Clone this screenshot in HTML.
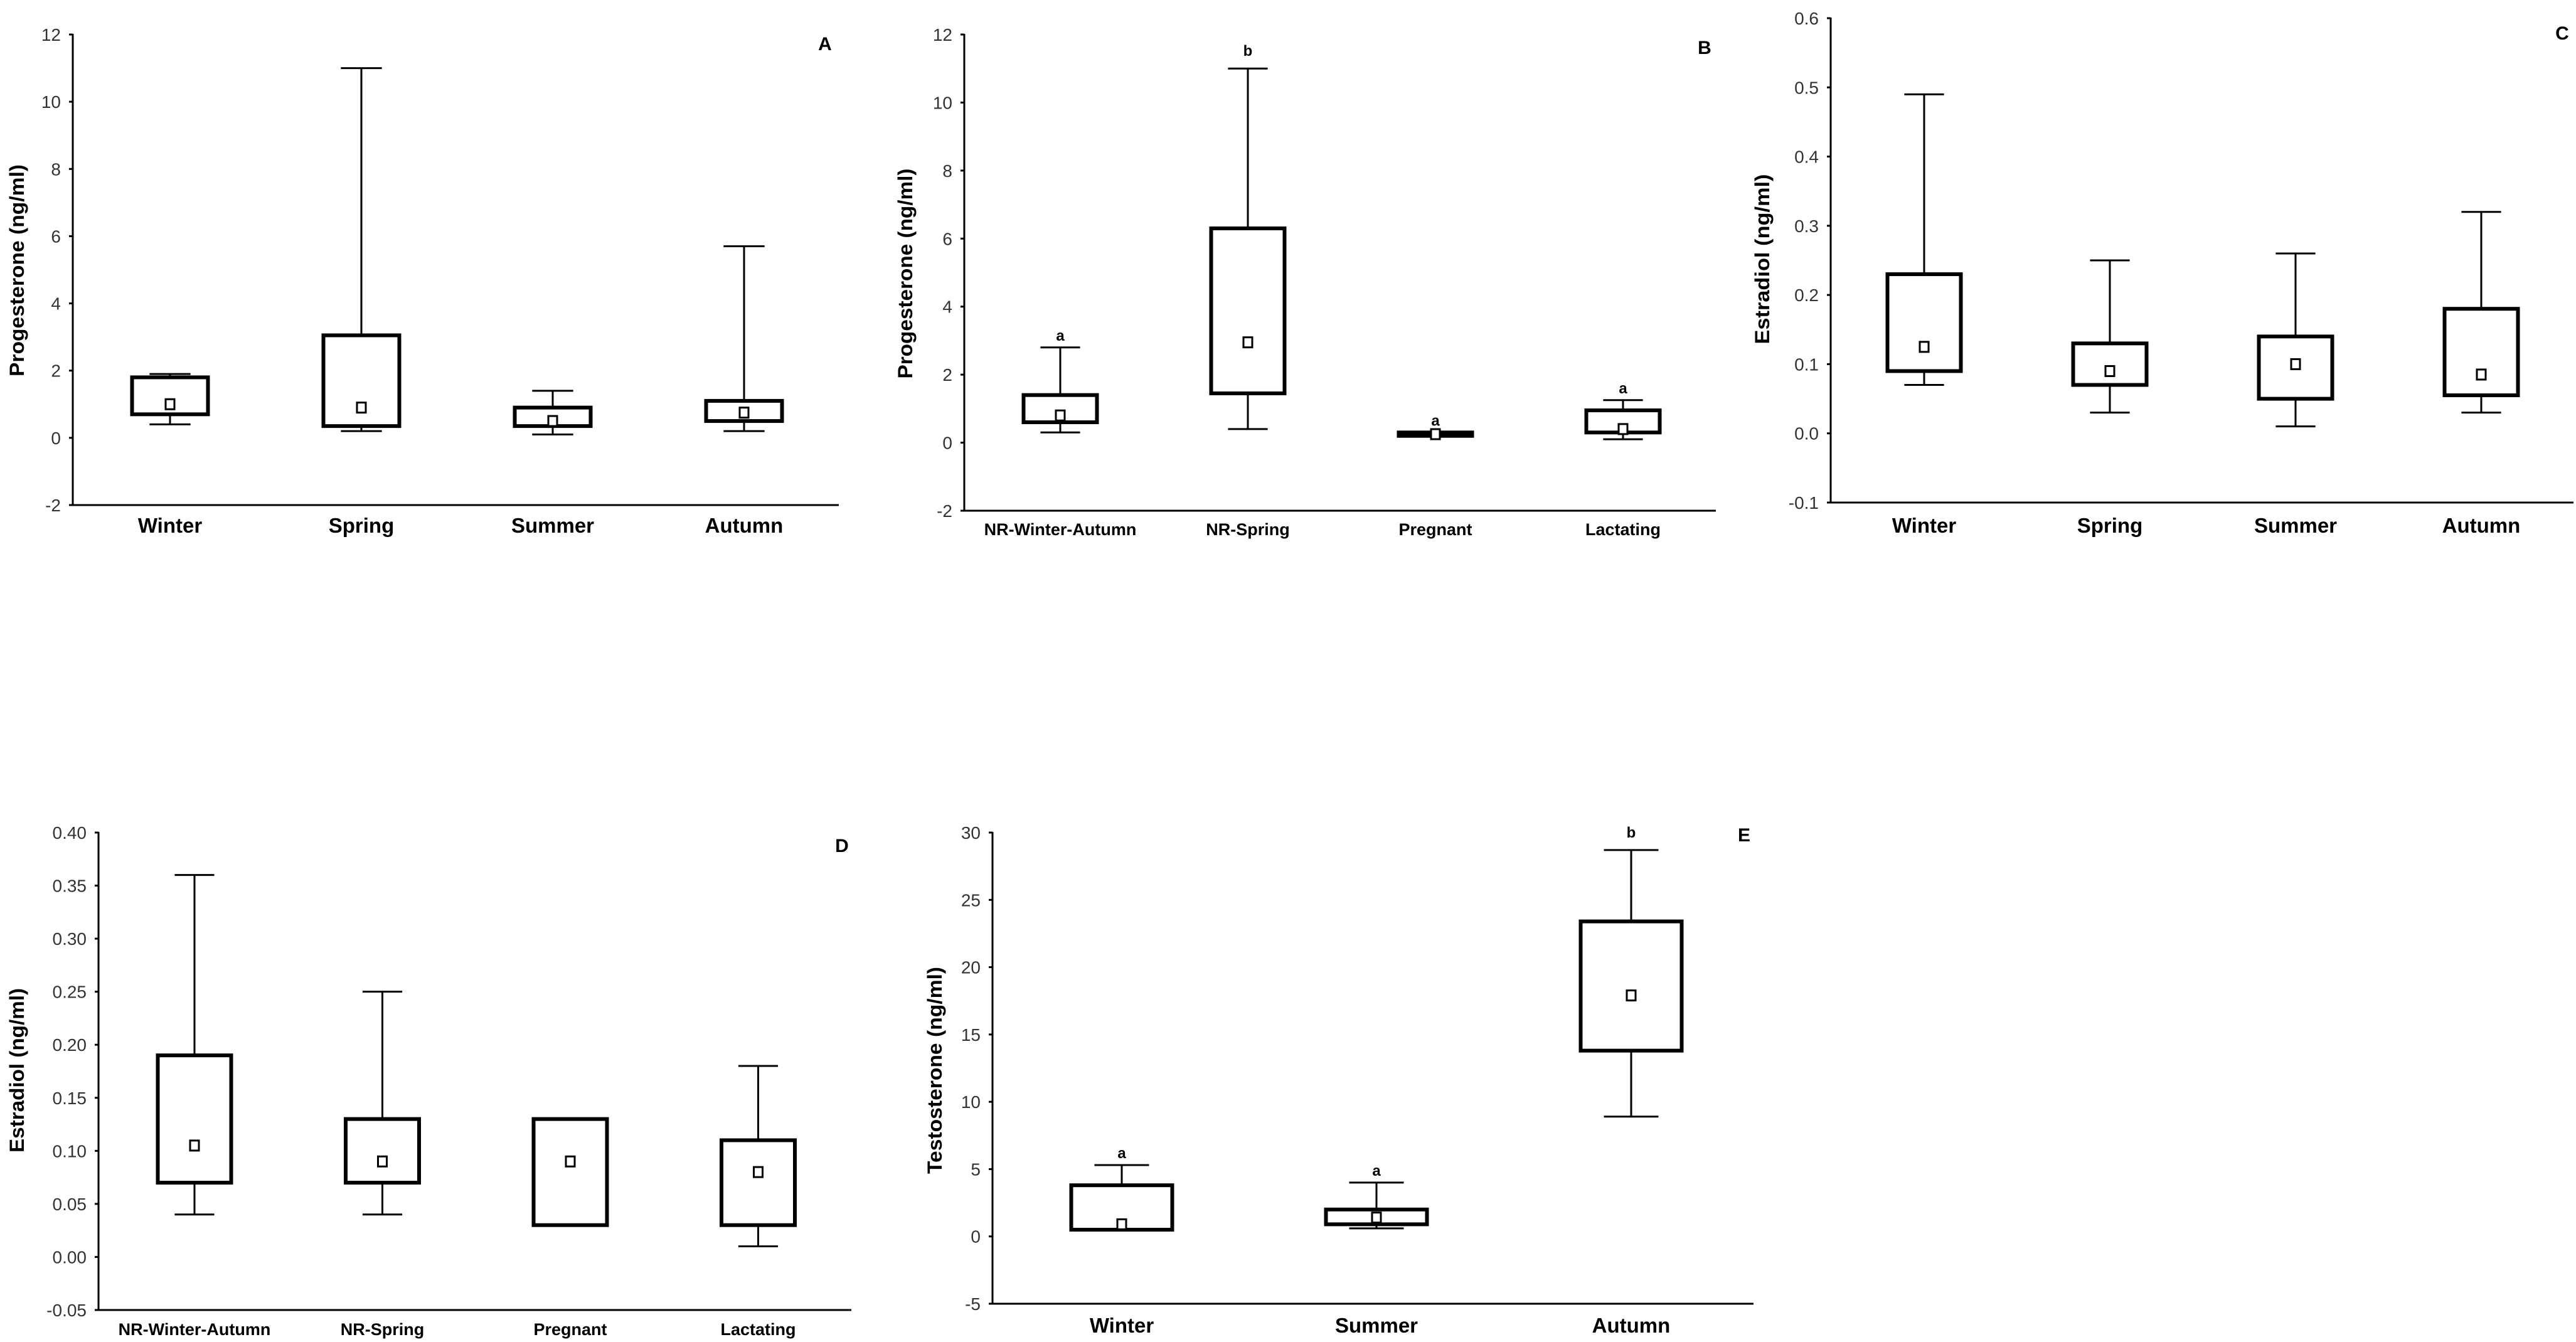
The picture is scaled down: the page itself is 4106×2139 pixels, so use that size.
<!DOCTYPE html>
<html><head><meta charset="utf-8"><style>
html,body{margin:0;padding:0;background:#fff;}
svg{display:block;}
text{font-family:"Liberation Sans",Arial,sans-serif;}
</style></head>
<body>
<svg id="fig" xmlns="http://www.w3.org/2000/svg" width="4106" height="2139" viewBox="0 0 4106 2139"></svg>
<script>
// Panel A: progesterone by season
const catsA = ["Winter","Spring","Summer","Autumn"];
const lowA  = [0.4, 0.2, 0.1, 0.2];
const q1A   = [0.7, 0.35, 0.35, 0.5];
const q3A   = [1.8, 3.05, 0.9, 1.1];
const highA = [1.9, 11, 1.4, 5.7];
const meanA = [1.0, 0.9, 0.5, 0.75];
const sigA  = ["", "", "", ""];
const ticksA = [-2,0,2,4,6,8,10,12];

// Panel B: progesterone by reproductive status
const catsB = ["NR-Winter-Autumn","NR-Spring","Pregnant","Lactating"];
const lowB  = [0.3, 0.4, null, 0.1];
const q1B   = [0.6, 1.45, 0.2, 0.3];
const q3B   = [1.4, 6.3, 0.3, 0.95];
const highB = [2.8, 11, null, 1.25];
const meanB = [0.8, 2.95, 0.25, 0.4];
const sigB  = ["a","b","a","a"];
const ticksB = [-2,0,2,4,6,8,10,12];

// Panel C: estradiol by season
const catsC = ["Winter","Spring","Summer","Autumn"];
const lowC  = [0.07, 0.03, 0.01, 0.03];
const q1C   = [0.09, 0.07, 0.05, 0.055];
const q3C   = [0.23, 0.13, 0.14, 0.18];
const highC = [0.49, 0.25, 0.26, 0.32];
const meanC = [0.125, 0.09, 0.1, 0.085];
const sigC  = ["", "", "", ""];
const ticksC = ["-0.1","0.0","0.1","0.2","0.3","0.4","0.5","0.6"];

// Panel D: estradiol by reproductive status
const catsD = ["NR-Winter-Autumn","NR-Spring","Pregnant","Lactating"];
const lowD  = [0.04, 0.04, null, 0.01];
const q1D   = [0.07, 0.07, 0.03, 0.03];
const q3D   = [0.19, 0.13, 0.13, 0.11];
const highD = [0.36, 0.25, null, 0.18];
const meanD = [0.105, 0.09, 0.09, 0.08];
const sigD  = ["", "", "", ""];
const ticksD = ["-0.05","0.00","0.05","0.10","0.15","0.20","0.25","0.30","0.35","0.40"];

// Panel E: testosterone by season
const catsE = ["Winter","Summer","Autumn"];
const lowE  = [null, 0.6, 8.9];
const q1E   = [0.5, 0.9, 13.8];
const q3E   = [3.8, 2.0, 23.4];
const highE = [5.3, 4.0, 28.7];
const meanE = [0.9, 1.4, 17.9];
const sigE  = ["a","a","b"];
const ticksE = [-5,0,5,10,15,20,25,30];

const NS = "http://www.w3.org/2000/svg";
const svg = document.getElementById("fig");
function mk(tag, attrs, parent){
  const e = document.createElementNS(NS, tag);
  for (const k in attrs) e.setAttribute(k, attrs[k]);
  (parent||svg).appendChild(e);
  return e;
}

const panels = [
  {id:"a", letter:"A", title:"Progesterone (ng/ml)", cats:catsA, low:lowA, q1:q1A, q3:q3A, high:highA, mean:meanA, sig:sigA, ticks:ticksA,
   axX:116, yTop:55, yBot:805, xEnd:1337, c0:271, dc:305, bw:121, titleX:27, titleY:431, titleLen:338, catY:849, letX:1315, letY:80},
  {id:"b", letter:"B", title:"Progesterone (ng/ml)", cats:catsB, low:lowB, q1:q1B, q3:q3B, high:highB, mean:meanB, sig:sigB, ticks:ticksB,
   axX:1537, yTop:55, yBot:814, xEnd:2735, c0:1690, dc:299, bw:117, titleX:1443, titleY:436, titleLen:335, catY:853, letX:2717, letY:86, catFont:27},
  {id:"c", letter:"C", title:"Estradiol (ng/ml)", cats:catsC, low:lowC, q1:q1C, q3:q3C, high:highC, mean:meanC, sig:sigC, ticks:ticksC,
   axX:2918, yTop:29, yBot:801, xEnd:4102, c0:3067, dc:296, bw:117, titleX:2809, titleY:413, titleLen:271, catY:849, letX:4084, letY:63},
  {id:"d", letter:"D", title:"Estradiol (ng/ml)", cats:catsD, low:lowD, q1:q1D, q3:q3D, high:highD, mean:meanD, sig:sigD, ticks:ticksD,
   axX:157, yTop:1327, yBot:2088, xEnd:1357, c0:310, dc:299.5, bw:117, titleX:27, titleY:1706, titleLen:262, catY:2128, letX:1342, letY:1358, catFont:27},
  {id:"e", letter:"E", title:"Testosterone (ng/ml)", cats:catsE, low:lowE, q1:q1E, q3:q3E, high:highE, mean:meanE, sig:sigE, ticks:ticksE,
   axX:1582, yTop:1327, yBot:2078, xEnd:2795, c0:1788, dc:406, bw:161, titleX:1490, titleY:1706, titleLen:330, catY:2124, letX:2780, letY:1341}
];

panels.forEach(p => {
  const g = mk("g", {});
  
  
  const tv = p.ticks.map(Number);
  const vmin = Math.min(...tv), vmax = Math.max(...tv);
  const y = v => p.yBot - (v - vmin) / (vmax - vmin) * (p.yBot - p.yTop);
  const x = i => p.c0 + i * p.dc;

  // axes
  const ya = mk("line", {x1:p.axX, y1:p.yTop-1, x2:p.axX, y2:p.yBot+1, stroke:"#000", "stroke-width":3}, g);
  
  
  const xa = mk("line", {x1:p.axX-6, y1:p.yBot, x2:p.xEnd, y2:p.yBot, stroke:"#000", "stroke-width":3}, g);
  
  

  p.ticks.forEach(t => {
    const yy = y(Number(t));
    mk("line", {x1:p.axX-6, y1:yy, x2:p.axX, y2:yy, stroke:"#000", "stroke-width":3}, g);
    const tl = mk("text", {x:p.axX-19, y:yy+10, "text-anchor":"end", "font-size":28, fill:"#333"}, g);
    tl.textContent = String(t);
    
    
  });

  // y title
  const tt = mk("text", {x:0, y:0, "text-anchor":"middle", "font-size":32, "font-weight":"bold", fill:"#000",
    transform:`translate(${p.titleX+11},${p.titleY}) rotate(-90)`, textLength:p.titleLen, lengthAdjust:"spacingAndGlyphs"}, g);
  tt.textContent = p.title;
  
  

  // panel letter
  const lt = mk("text", {x:p.letX, y:p.letY, "text-anchor":"middle", "font-size":30, "font-weight":"bold", fill:"#000"}, g);
  lt.textContent = p.letter;
  
  

  p.cats.forEach((c, i) => {
    const cx = x(i);
    const hw = p.bw / 2, capw = p.bw * 0.27;
    if (p.high[i] !== null) {
      const w = mk("line", {x1:cx, y1:y(p.high[i]), x2:cx, y2:y(p.q3[i]), stroke:"#000", "stroke-width":3}, g);
      
      
      mk("line", {x1:cx-capw, y1:y(p.high[i]), x2:cx+capw, y2:y(p.high[i]), stroke:"#000", "stroke-width":3}, g);
    }
    if (p.low[i] !== null) {
      const w = mk("line", {x1:cx, y1:y(p.low[i]), x2:cx, y2:y(p.q1[i]), stroke:"#000", "stroke-width":3}, g);
      
      
      mk("line", {x1:cx-capw, y1:y(p.low[i]), x2:cx+capw, y2:y(p.low[i]), stroke:"#000", "stroke-width":3}, g);
    }
    const top = y(p.q3[i]), bot = y(p.q1[i]);
    const b = mk("rect", {x:cx-hw, y:top, width:p.bw, height:Math.max(bot-top,1), fill:"#fff", stroke:"#000", "stroke-width":6}, g);
    
    
    const my = y(p.mean[i]);
    const m = mk("rect", {x:cx-7, y:my-8, width:14, height:16, fill:"#fff", stroke:"#000", "stroke-width":3}, g);
    
    
    if (p.sig[i]) {
      const capY = p.high[i] !== null ? y(p.high[i]) : top;
      const s = mk("text", {x:cx, y:capY - (p.sig[i]==="b" ? 20 : 11), "text-anchor":"middle", "font-size":24, "font-weight":"bold", fill:"#000"}, g);
      s.textContent = p.sig[i];
      
      
    }
    const cl = mk("text", {x:cx, y:p.catY, "text-anchor":"middle", "font-size":p.catFont||33, "font-weight":"bold", fill:"#000"}, g);
    cl.textContent = c;
    
    
  });
});
</script>
</body></html>
